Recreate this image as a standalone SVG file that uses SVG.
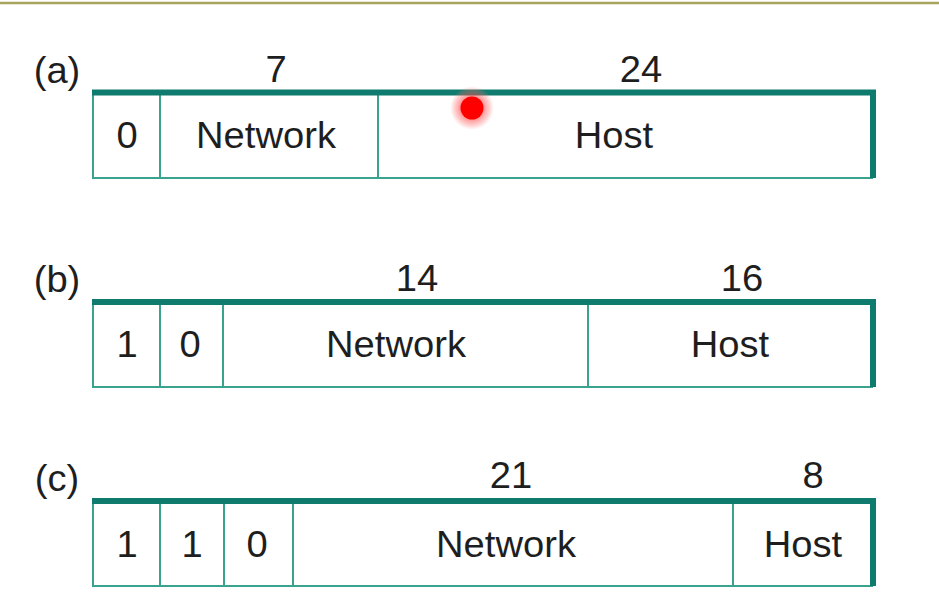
<svg xmlns="http://www.w3.org/2000/svg" width="939" height="611" viewBox="0 0 939 611">
<defs>
<style>
.thin{fill:none;stroke:#3aa38e;stroke-width:2}
.thick{fill:none;stroke:#0f7b6e;stroke-width:6;stroke-linecap:butt;stroke-linejoin:miter}
.t{font-family:"Liberation Sans",Arial,sans-serif;font-size:36px;fill:#1e1e1e;text-anchor:middle}
</style>
<radialGradient id="halo">
<stop offset="0.5" stop-color="#ff4040" stop-opacity="0.6"/>
<stop offset="0.8" stop-color="#ff6868" stop-opacity="0.3"/>
<stop offset="1" stop-color="#ff8080" stop-opacity="0"/>
</radialGradient>
</defs>
<rect width="939" height="611" fill="#fff"/>
<line x1="0" y1="3" x2="939" y2="3" stroke="#a8a55c" stroke-width="2.5"/>

<g id="class-a">
<text class="t" transform="translate(57,83) scale(1.06,1)">(a)</text>
<text class="t" transform="translate(276,82) scale(1.06,1)">7</text>
<text class="t" transform="translate(641,82) scale(1.06,1)">24</text>
<path class="thin" d="M873 178 H93 V92.5 M160 92.5 V178 M378 92.5 V178"/>
<path class="thick" d="M92 92.5 H873 V178"/>
<text class="t" transform="translate(127,148) scale(1.06,1)">0</text>
<text class="t" transform="translate(266,148) scale(1.06,1)">Network</text>
<text class="t" transform="translate(614,148) scale(1.06,1)">Host</text>
</g>

<g id="class-b">
<text class="t" transform="translate(57,292) scale(1.06,1)">(b)</text>
<text class="t" transform="translate(417,291) scale(1.06,1)">14</text>
<text class="t" transform="translate(742,291) scale(1.06,1)">16</text>
<path class="thin" d="M873 387 H93 V302 M160 302 V387 M223 302 V387 M588 302 V387"/>
<path class="thick" d="M92 302 H873 V387"/>
<text class="t" transform="translate(127,357) scale(1.06,1)">1</text>
<text class="t" transform="translate(190,357) scale(1.06,1)">0</text>
<text class="t" transform="translate(396,357) scale(1.06,1)">Network</text>
<text class="t" transform="translate(730,357) scale(1.06,1)">Host</text>
</g>

<g id="class-c">
<text class="t" transform="translate(57,491) scale(1.06,1)">(c)</text>
<text class="t" transform="translate(511,488) scale(1.06,1)">21</text>
<text class="t" transform="translate(813,488) scale(1.06,1)">8</text>
<path class="thin" d="M873 586 H93 V501 M160 501 V586 M224 501 V586 M293 501 V586 M733 501 V586"/>
<path class="thick" d="M92 501 H873 V586"/>
<text class="t" transform="translate(127,557) scale(1.06,1)">1</text>
<text class="t" transform="translate(192,557) scale(1.06,1)">1</text>
<text class="t" transform="translate(257,557) scale(1.06,1)">0</text>
<text class="t" transform="translate(506,557) scale(1.06,1)">Network</text>
<text class="t" transform="translate(803,557) scale(1.06,1)">Host</text>
</g>

<g id="pointer">
<circle cx="472" cy="108" r="22" fill="url(#halo)"/>
<circle cx="472" cy="108" r="11.5" fill="#ff0000"/>
</g>
</svg>
